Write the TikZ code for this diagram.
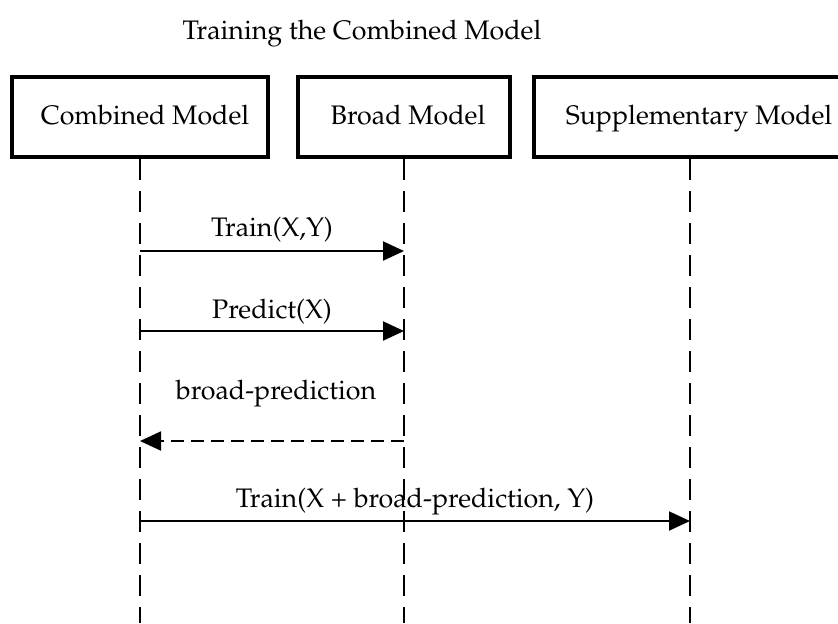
\documentclass[tikz,border=0pt]{standalone}
\usepackage[T1]{fontenc}
\usepackage{mathpazo}
\usetikzlibrary{arrows.meta}
\tikzset{
	head/.style={draw, line width=2pt, minimum height=40pt, inner sep=0pt, text height=9.5pt, text depth=2.5pt, font=\fontsize{13.4}{16}\selectfont},
	life/.style={line width=1pt, dash pattern=on 10.5pt off 5.5pt},
	msg/.style={line width=1pt, -{Triangle[length=10.5pt,width=9.5pt]}},
	reply/.style={msg, dash pattern=on 6.5pt off 3.5pt},
	lbl/.style={font=\fontsize{13.4}{16}\selectfont}
}

\begin{document}
\begin{tikzpicture}[x=0.5pt, y=-0.5pt]
	\useasboundingbox (0,0) rectangle (838,623);
	\clip (0,0) rectangle (838,623);
	\node[lbl] (title) at (362,34) {Training the Combined Model};

	% heads of the three lifelines
	\node[head, minimum width=128pt] (cm) at (140,117) {\hspace{5pt}Combined Model};
	\node[head, minimum width=106pt] (bm) at (404,117) {\hspace{4pt}Broad Model};
	\node[head, minimum width=156pt] (sm) at (690,117) {\hspace{9pt}Supplementary Model};

	\coordinate (cmEnd) at (140,623);
	\coordinate (bmEnd) at (404,623);
	\coordinate (smEnd) at (690,623);
	\draw[life] (cm.south) -- (cmEnd);
	\draw[life] (bm.south) -- (bmEnd);
	\draw[life] (sm.south) -- (smEnd);

	% messages
	\coordinate (c1) at (140,251);
	\coordinate (b1) at (404,251);
	\coordinate (c2) at (140,331);
	\coordinate (b2) at (404,331);
	\coordinate (c3) at (140,441);
	\coordinate (b3) at (404,441);
	\coordinate (c4) at (140,521);
	\coordinate (s4) at (690,521);
	\draw[msg] (c1) -- (b1);
	\draw[msg] (c2) -- (b2);
	\draw[reply] (b3) -- (c3);
	\draw[msg] (c4) -- (s4);
	\node[lbl] (m1) at (272,230) {Train(X,Y)};
	\node[lbl] (m2) at (272,312) {Predict(X)};
	\node[lbl] (m3) at (276,394) {broad-prediction};
	\node[lbl] (m4) at (415,502) {Train(X + broad-prediction, Y)};
\end{tikzpicture}
\end{document}
